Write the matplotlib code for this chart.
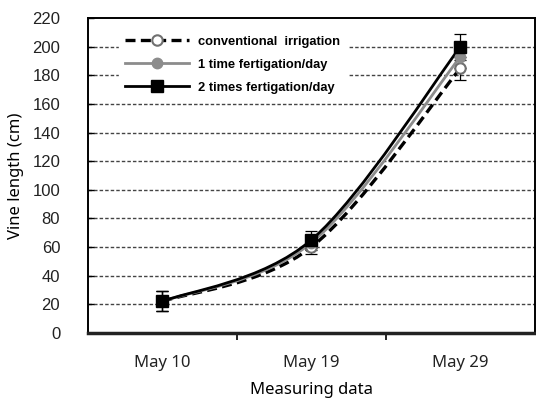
import matplotlib
matplotlib.use("Agg")
import matplotlib.pyplot as plt
from matplotlib.path import Path
from matplotlib.patches import PathPatch
import numpy as np

# Dữ liệu
dates = ["May 10", "May 19", "May 29"]
conventional = [22, 60, 185]
one_time = [22, 63, 193]
two_times = [22, 65, 200]
err_conv = [7, 5, 8]
err_one = [7, 5, 8]
err_two = [7, 6, 9]
yticks = list(range(0, 221, 20))


def smooth_path(xs, ys):
    # Đường cong kiểu Excel (Bezier qua các điểm dữ liệu)
    pts = np.column_stack([xs, ys]).astype(float)
    verts = [pts[0]]
    codes = [Path.MOVETO]
    n = len(pts)
    for i in range(n - 1):
        p_prev = pts[i - 1] if i > 0 else pts[i]
        p_next = pts[i + 2] if i + 2 < n else pts[i + 1]
        c1 = pts[i] + (pts[i + 1] - p_prev) / 6
        c2 = pts[i + 1] - (p_next - pts[i]) / 6
        verts += [c1, c2, pts[i + 1]]
        codes += [Path.CURVE4] * 3
    return Path(verts, codes)


fig = plt.figure(figsize=(5.36, 4.03), dpi=100)
ax = fig.add_axes([0.164, 0.174, 0.834, 0.781])
x = np.arange(len(dates))

series = [
    (conventional, err_conv, dict(color="black", ls=(0, (3, 1.6)), lw=2.4),
     dict(marker="o", mfc="white", mec="#707070", ms=7.5, mew=1.5), "conventional  irrigation"),
    (one_time, err_one, dict(color="#8c8c8c", ls="-", lw=2.0),
     dict(marker="o", mfc="#8c8c8c", mec="#8c8c8c", ms=7.5), "1 time fertigation/day"),
    (two_times, err_two, dict(color="black", ls="-", lw=2.0),
     dict(marker="s", mfc="black", mec="black", ms=8), "2 times fertigation/day"),
]

handles = []
for vals, err, lstyle, mstyle, label in series:
    patch = PathPatch(smooth_path(x, vals), fill=False, edgecolor=lstyle["color"],
                      linestyle=lstyle["ls"], linewidth=lstyle["lw"], zorder=3)
    ax.add_patch(patch)
    ax.errorbar(x, vals, yerr=err, fmt="none", ecolor="black", elinewidth=0.9,
                capsize=4, capthick=0.9, zorder=4)
    ax.plot(x, vals, ls="none", zorder=5, **mstyle)
    h, = ax.plot([], [], color=lstyle["color"], ls=lstyle["ls"], lw=lstyle["lw"], **mstyle)
    handles.append((h, label))

ax.set_xlim(-0.5, 2.5)
ax.set_ylim(0, 220)
ax.set_yticks(yticks)
ax.set_yticklabels([str(v) for v in yticks], fontsize=12, family="Liberation Sans", color="#222222")
ax.set_xticks(x)
ax.set_xticklabels(dates, fontsize=12, family="Noto Sans", color="#222222")
ax.set_xticks([0.5, 1.5], minor=True)
ax.tick_params(axis="x", which="major", length=0, pad=16)
ax.tick_params(axis="x", which="minor", length=5, direction="out", width=1.2)
ax.tick_params(axis="y", direction="in", length=4, width=1.0, pad=20)

for v in yticks[1:-1]:
    ax.axhline(v, color="#444444", lw=1.0, ls=(0, (2.5, 1.5)), zorder=1)

for side in ["left", "top", "right"]:
    ax.spines[side].set_linewidth(1.4)
ax.spines["bottom"].set_linewidth(2.5)
ax.spines["bottom"].set_color("#222222")

ax.set_ylabel("Vine length (cm)", fontsize=12, family="Noto Sans", labelpad=6)
ax.set_xlabel("Measuring data", fontsize=12, family="Noto Sans", labelpad=8)

leg = ax.legend([h for h, _ in handles], [l for _, l in handles], loc="upper left",
                bbox_to_anchor=(0.055, 0.985), frameon=True, framealpha=1.0,
                edgecolor="white", fancybox=False, handlelength=4.9,
                prop={"size": 9.3, "weight": "bold", "family": "Liberation Sans"},
                borderpad=0.5, labelspacing=0.85, handletextpad=0.75)

fig.savefig("out.png", dpi=100)
plt.close(fig)
